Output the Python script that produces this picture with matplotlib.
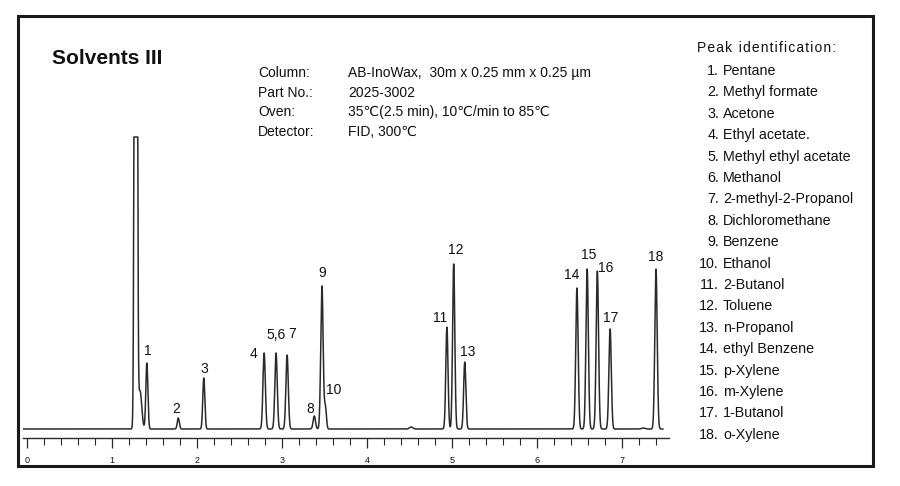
import numpy as np
import matplotlib
matplotlib.use("Agg")
import matplotlib.pyplot as plt
from matplotlib.patches import Rectangle
from matplotlib.ticker import MultipleLocator

plt.rcParams['font.family'] = ['Liberation Sans', 'DejaVu Sans']

# Picos del cromatograma (tiempo en min, altura sobre la linea base en px de la imagen)
tiempos = [1.28, 1.33, 1.41, 1.78, 2.08, 2.79, 2.93, 3.06, 3.38, 3.47, 3.51,
           4.52, 4.94, 5.02, 5.15, 6.47, 6.59, 6.71, 6.86, 7.25, 7.40]
alturas = [2000, 38, 66, 11, 51, 76, 76, 74, 13, 143, 22,
           2, 102, 165, 67, 141, 160, 158, 100, 1, 160]
anchos = [0.012, 0.02, 0.012, 0.012, 0.012, 0.014, 0.014, 0.014, 0.014, 0.014, 0.012,
          0.02, 0.013, 0.013, 0.013, 0.014, 0.014, 0.014, 0.014, 0.02, 0.014]
saturacion = 292
linea_base = 9

etiquetas = ["1", "2", "3", "4", "5,6", "7", "8", "9", "10",
             "11", "12", "13", "14", "15", "16", "17", "18"]
pos_etiquetas = [(1.42, 87), (1.76, 29), (2.08, 69), (2.67, 84), (2.93, 103),
                 (3.12, 104), (3.33, 29), (3.47, 165), (3.61, 48), (4.86, 120),
                 (5.04, 188), (5.18, 86), (6.41, 163), (6.61, 183), (6.81, 170),
                 (6.87, 120), (7.40, 181)]

compuestos = ["Pentane", "Methyl formate", "Acetone", "Ethyl acetate.",
              "Methyl ethyl acetate", "Methanol", "2-methyl-2-Propanol",
              "Dichloromethane", "Benzene", "Ethanol", "2-Butanol", "Toluene",
              "n-Propanol", "ethyl Benzene", "p-Xylene", "m-Xylene", "1-Butanol",
              "o-Xylene"]

condiciones = [("Column:", "AB-InoWax,  30m x 0.25 mm x 0.25 \u00b5m"),
               ("Part No.:", "2025-3002"),
               ("Oven:", "35\u2103(2.5 min), 10\u2103/min to 85\u2103"),
               ("Detector:", "FID, 300\u2103")]

W, H = 900, 486
color = "#2a2a2a"

def fx(px):
    return px / W

def fy(py):
    return 1 - py / H

fig = plt.figure(figsize=(9, 4.86), dpi=100)

# marco exterior
fig.patches.append(Rectangle((fx(18), fy(466)), fx(873) - fx(18), fy(16) - fy(466),
                             transform=fig.transFigure, fill=False, lw=2.2, ec="#1a1a1a"))

# eje del cromatograma
x_izq, x_der = -0.05, 7.55
px0, ppm = 27, 85
ax = fig.add_axes([fx(px0 + x_izq * ppm), fy(438), fx((x_der - x_izq) * ppm), (438 - 130) / H])
ax.set_xlim(x_izq, x_der)
ax.set_ylim(0, 308)

t = np.linspace(x_izq, 7.48, 6000)
senal = np.zeros_like(t)
for t0, h, s in zip(tiempos, alturas, anchos):
    senal += h * np.exp(-0.5 * ((t - t0) / s) ** 2)
senal = np.minimum(senal, saturacion) + linea_base
ax.plot(t, senal, color=color, lw=1.1)

for txt, (tx, ty) in zip(etiquetas, pos_etiquetas):
    ax.text(tx, ty, txt, ha="center", va="center", fontsize=10, color="#111")

for lado in ["top", "right", "left"]:
    ax.spines[lado].set_visible(False)
ax.spines["bottom"].set_color(color)
ax.spines["bottom"].set_linewidth(1.0)
ax.set_yticks([])
ax.xaxis.set_major_locator(MultipleLocator(1))
ax.xaxis.set_minor_locator(MultipleLocator(0.2))
ax.set_xticks(range(0, 8))
ax.tick_params(axis="x", which="major", length=7, width=0.9, color=color,
               labelsize=6.5, pad=6, labelcolor="#111")
ax.tick_params(axis="x", which="minor", length=5, width=0.8, color=color)

# textos
fig.text(fx(52), fy(58), "Solvents III", fontsize=15, fontweight="bold",
         ha="left", va="center", color="#111")

for i, (k, v) in enumerate(condiciones):
    y = 73 + i * 19.7
    fig.text(fx(258), fy(y), k, fontsize=10, ha="left", va="center", color="#111")
    fig.text(fx(348), fy(y), v, fontsize=10, ha="left", va="center", color="#111")

titulo_lista = "\u200a".join("Peak") + " \u2009" + "\u200a".join("identification:")
fig.text(fx(697), fy(48), titulo_lista, fontsize=10,
         ha="left", va="center", color="#111")
for i, nombre in enumerate(compuestos):
    y = 71 + i * 21.4
    fig.text(fx(719), fy(y), f"{i + 1}.", fontsize=10.3, ha="right", va="center", color="#111")
    fig.text(fx(723), fy(y), nombre, fontsize=10.3, ha="left", va="center", color="#111")

fig.savefig("out.png", dpi=100)
